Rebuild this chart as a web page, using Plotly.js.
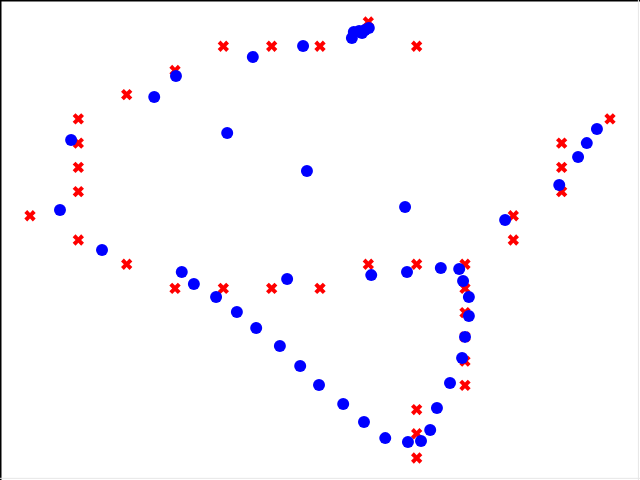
<!DOCTYPE html>
<html>
<head>
<meta charset="utf-8">
<script src="https://cdn.plot.ly/plotly-3.0.1.min.js"></script>
<style>html,body{margin:0;padding:0;background:#fff;}#chart{width:640px;height:480px;}</style>
</head>
<body>
<div id="chart"></div>
<script>
// Red grid points (x markers)
const redX = [1, -2, -1, 0, 2, -3, -4, -5, -5, -5, -5, -6, -5, -4, -3, -2, -1, 0, 1, 2, 3, 3, 3, 3, 3, 3, 2, 2, 2, 4, 4, 5, 5, 5, 6];
const redY = [9, 8, 8, 8, 8, 7, 6, 5, 4, 3, 2, 1, 0, -1, -2, -2, -2, -2, -1, -1, -1, -2, -3, -4, -5, -6, -7, -8, -9, 1, 0, 4, 3, 2, 5];

// Blue points (circles)
const blueX = [-1.39, -0.35, -2.98, -3.43, -5.15, -1.92, -0.27, -5.38,
  0.66, 0.70, 0.81, 0.87, 0.93, 1.01,
  1.76, 3.83, 4.95, 5.34, 5.52, 5.73,
  -4.51, -2.86, -2.61, -2.15, -1.72, -1.32, -0.83, -0.41, -0.02, -0.68,
  1.06, 1.80, 2.50, 2.88, 2.96, 3.08, 3.08, 3.00, 2.94, 2.69, 2.42, 2.28, 2.09, 1.82, 1.35, 0.91, 0.48];
const blueY = [7.56, 8.01, 6.77, 5.90, 4.13, 4.42, 2.85, 1.24,
  8.34, 8.59, 8.63, 8.55, 8.67, 8.75,
  1.36, 0.83, 2.27, 3.43, 4.00, 4.58,
  -0.41, -1.32, -1.82, -2.35, -2.97, -3.63, -4.38, -5.20, -5.99, -1.61,
  -1.45, -1.32, -1.16, -1.20, -1.69, -2.35, -3.14, -4.00, -4.87, -5.90, -6.94, -7.84, -8.30, -8.34, -8.18, -7.51, -6.77];

const data = [
  {x: redX, y: redY, type: 'scatter', mode: 'markers',
   marker: {symbol: 'x', size: 10, color: '#ff0000', line: {width: 0}}, hoverinfo: 'skip'},
  {x: blueX, y: blueY, type: 'scatter', mode: 'markers',
   marker: {symbol: 'circle', size: 12, color: '#0000ff', line: {width: 0}}, hoverinfo: 'skip'}
];

const layout = {
  width: 640, height: 480,
  margin: {l: 0, r: 0, t: 0, b: 0, pad: 0},
  paper_bgcolor: '#ffffff', plot_bgcolor: '#ffffff',
  showlegend: false,
  xaxis: {range: [-6.621, 6.621], visible: false, fixedrange: true},
  yaxis: {range: [-9.909, 9.909], visible: false, fixedrange: true},
  shapes: [
    {type: 'line', xref: 'paper', yref: 'paper', x0: 0, x1: 1, y0: 1, y1: 1, line: {color: '#000', width: 3}},
    {type: 'line', xref: 'paper', yref: 'paper', x0: 0, x1: 0, y0: 0, y1: 1, line: {color: '#000', width: 3}},
    {type: 'line', xref: 'paper', yref: 'paper', x0: 0.9975, x1: 0.9975, y0: 0, y1: 1, line: {color: '#e6e6e6', width: 1}},
    {type: 'line', xref: 'paper', yref: 'paper', x0: 0, x1: 1, y0: 0.0035, y1: 0.0035, line: {color: '#e6e6e6', width: 1}}
  ]
};

Plotly.newPlot('chart', data, layout, {displayModeBar: false, staticPlot: true});
</script>
</body>
</html>
